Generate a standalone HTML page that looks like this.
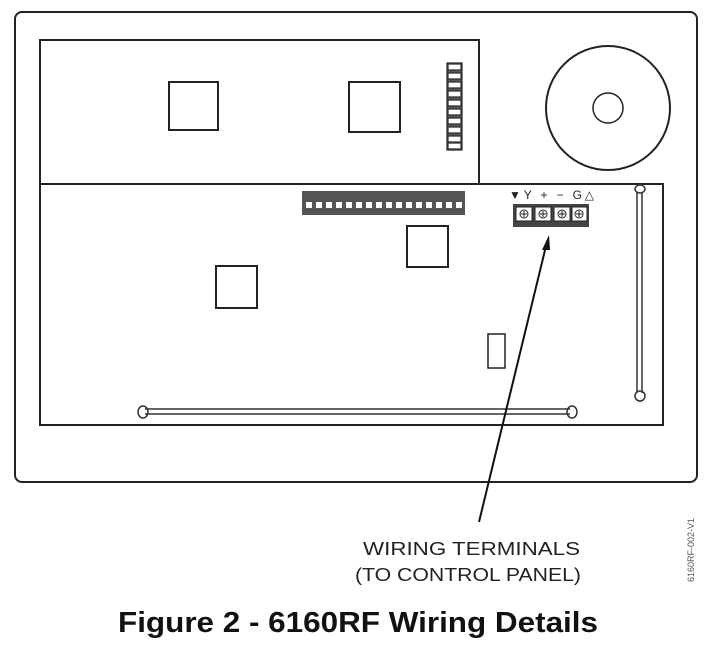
<!DOCTYPE html>
<html><head><style>body{margin:0;background:#fff}svg{display:block}</style></head><body>
<svg width="720" height="659" viewBox="0 0 720 659" xmlns="http://www.w3.org/2000/svg" font-family="Liberation Sans, sans-serif">
<g fill="none" stroke="#222" stroke-width="2">
<rect x="15" y="12" width="682" height="470" rx="7"/>
<rect x="40" y="40" width="439" height="144"/>
<rect x="40" y="184" width="623" height="241"/>
<rect x="169" y="82" width="49" height="48"/>
<rect x="349" y="82" width="51" height="50"/>
<rect x="407" y="226" width="41" height="41"/>
<rect x="216" y="266" width="41" height="42"/>
<rect x="488" y="334" width="17" height="34" stroke-width="1.5"/>
<circle cx="608" cy="108" r="62"/>
<circle cx="608" cy="108" r="15" stroke-width="1.5"/>
</g>
<g stroke="#333" fill="#fff" stroke-width="1.3">
<rect x="447" y="63" width="15" height="87" fill="#555"/>
<rect x="448" y="64" width="13" height="6"/><rect x="448" y="73" width="13" height="6"/><rect x="448" y="82" width="13" height="6"/><rect x="448" y="91" width="13" height="6"/><rect x="448" y="100" width="13" height="6"/><rect x="448" y="109" width="13" height="6"/><rect x="448" y="118" width="13" height="6"/><rect x="448" y="127" width="13" height="6"/><rect x="448" y="136" width="13" height="6"/><rect x="448" y="143" width="13" height="6"/>
</g>
<rect x="302" y="191" width="163" height="24" fill="#555"/>
<g fill="#fff">
<rect x="306" y="202" width="6" height="6"/><rect x="316" y="202" width="6" height="6"/><rect x="326" y="202" width="6" height="6"/><rect x="336" y="202" width="6" height="6"/><rect x="346" y="202" width="6" height="6"/><rect x="356" y="202" width="6" height="6"/><rect x="366" y="202" width="6" height="6"/><rect x="376" y="202" width="6" height="6"/><rect x="386" y="202" width="6" height="6"/><rect x="396" y="202" width="6" height="6"/><rect x="406" y="202" width="6" height="6"/><rect x="416" y="202" width="6" height="6"/><rect x="426" y="202" width="6" height="6"/><rect x="436" y="202" width="6" height="6"/><rect x="446" y="202" width="6" height="6"/><rect x="456" y="202" width="6" height="6"/>
</g>
<text x="509" y="199" font-size="12" fill="#222" textLength="85" lengthAdjust="spacing">▼Y  +  −  G△</text>
<rect x="513" y="204" width="76" height="23" fill="#444"/>
<g fill="#fff" stroke="#222" stroke-width="1">
<rect x="516" y="207" width="16" height="14"/><rect x="535" y="207" width="16" height="14"/><rect x="554" y="207" width="16" height="14"/><rect x="572" y="207" width="15" height="14"/>
<circle cx="524" cy="214" r="4"/><circle cx="543" cy="214" r="4"/><circle cx="562" cy="214" r="4"/><circle cx="579" cy="214" r="4"/>
<path d="M521 214h6M524 211v6M540 214h6M543 211v6M559 214h6M562 211v6M576 214h6M579 211v6"/>
</g>
<g fill="none" stroke="#333" stroke-width="1.5">
<line x1="145" y1="409" x2="570" y2="409"/><line x1="145" y1="414" x2="570" y2="414"/>
<ellipse cx="143" cy="412" rx="5" ry="6"/><ellipse cx="572" cy="412" rx="5" ry="6"/>
<line x1="637" y1="192" x2="637" y2="393"/><line x1="642" y1="192" x2="642" y2="393"/>
<ellipse cx="640" cy="189" rx="5" ry="4"/><ellipse cx="640" cy="396" rx="5" ry="5"/>
</g>
<line x1="479" y1="522" x2="546" y2="246" stroke="#111" stroke-width="2"/>
<polygon points="549,235 542,250 550,250" fill="#111"/>
<text x="363" y="555" font-size="18" fill="#222" textLength="217" lengthAdjust="spacingAndGlyphs">WIRING TERMINALS</text>
<text x="355" y="581" font-size="18" fill="#222" textLength="226" lengthAdjust="spacingAndGlyphs">(TO CONTROL PANEL)</text>
<text x="118" y="632" font-size="29" font-weight="bold" fill="#111" textLength="480" lengthAdjust="spacingAndGlyphs">Figure 2 - 6160RF Wiring Details</text>
<text transform="translate(694,582) rotate(-90)" font-size="9" fill="#555">6160RF-002-V1</text>
</svg>
</body></html>
